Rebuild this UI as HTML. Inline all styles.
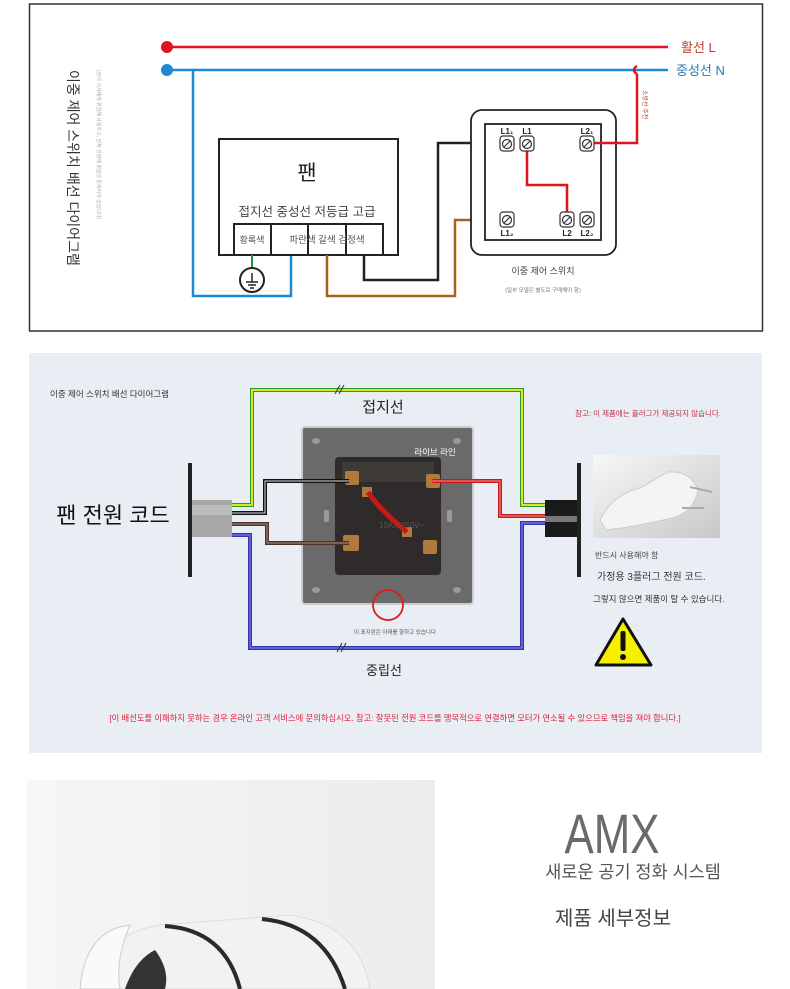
<!DOCTYPE html>
<html><head><meta charset="utf-8"><style>
html,body{margin:0;padding:0;background:#fff;}
svg{display:block;font-family:"Liberation Sans","Noto Sans CJK KR",sans-serif;}
</style></head><body>
<svg width="790" height="989" viewBox="0 0 790 989" xmlns="http://www.w3.org/2000/svg">
<defs>
<linearGradient id="pg" x1="0" y1="0" x2="1" y2="1"><stop offset="0" stop-color="#f7f7f7"/><stop offset="1" stop-color="#c8c8c8"/></linearGradient>
<linearGradient id="fg" x1="0" y1="0" x2="1" y2="0"><stop offset="0" stop-color="#f6f6f6"/><stop offset="1" stop-color="#ececec"/></linearGradient>
</defs>
<!-- Section 1 -->
<rect x="29.5" y="4" width="733" height="327" fill="#fff" stroke="#333" stroke-width="1.5"/>
<text transform="translate(68,70) rotate(90)" font-size="14" fill="#333">이중 제어 스위치 배선 다이어그램</text>
<text transform="translate(97,70) rotate(90)" font-size="5" fill="#aaa">(전기 기사에게 위임해 사용하고, 인체 안전에 위험성 존재하지 않습니다)</text>
<line x1="167" y1="47" x2="668" y2="47" stroke="#e0141e" stroke-width="2.5"/>
<line x1="167" y1="70" x2="668" y2="70" stroke="#1a8ad4" stroke-width="2.5"/>
<circle cx="167" cy="47" r="6" fill="#e0141e"/>
<circle cx="167" cy="70" r="6" fill="#1a8ad4"/>
<text x="681" y="52" font-size="13" fill="#c0392b">활선 L</text>
<text x="676" y="75" font-size="13" fill="#2a7ab0">중성선 N</text>
<polyline points="193,70 193,296 291,296 291,255" fill="none" stroke="#1a8ad4" stroke-width="2.5"/>
<rect x="219" y="139" width="179" height="116" fill="#fff" stroke="#222" stroke-width="2"/>
<text x="307" y="180" font-size="21" text-anchor="middle" fill="#222">팬</text>
<text x="307" y="216" font-size="12.5" text-anchor="middle" fill="#444">접지선 중성선 저등급 고급</text>
<rect x="234" y="224" width="149" height="31" fill="#fff" stroke="#222" stroke-width="2"/>
<line x1="271" y1="224" x2="271" y2="255" stroke="#222" stroke-width="2"/>
<line x1="308" y1="224" x2="308" y2="255" stroke="#222" stroke-width="2"/>
<line x1="346" y1="224" x2="346" y2="255" stroke="#222" stroke-width="2"/>
<text x="252" y="243" font-size="9" text-anchor="middle" fill="#555">황록색</text>
<text x="327" y="243" font-size="9.5" text-anchor="middle" fill="#555">파란색 갈색 검정색</text>
<line x1="252" y1="255" x2="252" y2="268" stroke="#1a9a3a" stroke-width="2"/>
<circle cx="252" cy="280" r="12" fill="#fff" stroke="#222" stroke-width="2"/>
<line x1="252" y1="273" x2="252" y2="282" stroke="#222" stroke-width="1.5"/>
<line x1="246" y1="282" x2="258" y2="282" stroke="#222" stroke-width="1.5"/>
<line x1="248" y1="285" x2="256" y2="285" stroke="#222" stroke-width="1.5"/>
<line x1="250" y1="288" x2="254" y2="288" stroke="#222" stroke-width="1.5"/>
<polyline points="327,255 327,296 455,296 455,220 500,220" fill="none" stroke="#a8621c" stroke-width="2.5"/>
<polyline points="364,255 364,280 438,280 438,143 500,143" fill="none" stroke="#222" stroke-width="2.5"/>
<rect x="471" y="110" width="145" height="145" rx="11" fill="#fff" stroke="#222" stroke-width="1.8"/>
<rect x="485" y="124" width="116" height="116" fill="#fff" stroke="#222" stroke-width="1.8"/>
<polyline points="527,150 527,185 567,185 567,213" fill="none" stroke="#e0141e" stroke-width="2.5"/>
<polyline points="594,143 637,143 637,74 M637,66 637,47" fill="none" stroke="#e0141e" stroke-width="2.5"/>
<path d="M637,74 Q631,70 637,66" fill="none" stroke="#e0141e" stroke-width="2.5"/>
<text transform="translate(643,90) rotate(90)" font-size="6" fill="#c0392b">소방선 추천</text>
<g font-size="8" font-weight="bold" fill="#222" text-anchor="middle">
<text x="507" y="134">L1₁</text><text x="527" y="134">L1</text><text x="587" y="134">L2₁</text>
<text x="507" y="236">L1₂</text><text x="567" y="236">L2</text><text x="587" y="236">L2₂</text>
</g>
<g fill="#fff" stroke="#333" stroke-width="1.2">
<rect x="500" y="136" width="14" height="15" rx="3"/><rect x="520" y="136" width="14" height="15" rx="3"/><rect x="580" y="136" width="14" height="15" rx="3"/>
<rect x="500" y="212" width="14" height="15" rx="3"/><rect x="560" y="212" width="14" height="15" rx="3"/><rect x="580" y="212" width="14" height="15" rx="3"/>
</g>
<g fill="none" stroke="#333" stroke-width="1.2">
<circle cx="507" cy="144" r="4.5"/><circle cx="527" cy="144" r="4.5"/><circle cx="587" cy="144" r="4.5"/>
<circle cx="507" cy="220" r="4.5"/><circle cx="567" cy="220" r="4.5"/><circle cx="587" cy="220" r="4.5"/>
<path d="M504,147 510,141 M524,147 530,141 M584,147 590,141 M504,223 510,217 M564,223 570,217 M584,223 590,217"/>
</g>
<text x="543" y="274" font-size="9" text-anchor="middle" fill="#444">이중 제어 스위치</text>
<text x="543" y="292" font-size="5.5" text-anchor="middle" fill="#777">(일부 모델은 별도로 구매해야 함)</text>

<!-- Section 2 -->
<rect x="29" y="353" width="733" height="400" fill="#e9eef4"/>
<text x="50" y="397" font-size="8.5" fill="#333">이중 제어 스위치 배선 다이어그램</text>
<text x="383" y="412" font-size="15" text-anchor="middle" fill="#222">접지선</text>
<text x="384" y="675" font-size="13" text-anchor="middle" fill="#222">중립선</text>
<text x="113" y="523" font-size="22" text-anchor="middle" fill="#111">팬 전원 코드</text>
<polyline points="232,505 252,505 252,390 522,390 522,505 545,505" fill="none" stroke="#2a9a2a" stroke-width="4"/>
<polyline points="232,505 252,505 252,390 522,390 522,505 545,505" fill="none" stroke="#d8e820" stroke-width="2"/>
<line x1="335" y1="394" x2="340" y2="385" stroke="#333"/><line x1="339" y1="394" x2="344" y2="385" stroke="#333"/>
<polyline points="232,535 250,535 250,648 522,648 522,523 545,523" fill="none" stroke="#3535b0" stroke-width="4"/>
<polyline points="232,535 250,535 250,648 522,648 522,523 545,523" fill="none" stroke="#7a7af0" stroke-width="1.2"/>
<line x1="337" y1="652" x2="342" y2="643" stroke="#333"/><line x1="341" y1="652" x2="346" y2="643" stroke="#333"/>
<rect x="302" y="427" width="171" height="177" rx="3" fill="#6a6a6a" stroke="#ccc" stroke-width="2"/>
<rect x="335" y="457" width="106" height="118" rx="4" fill="#2e2b2a"/>
<rect x="342" y="462" width="92" height="20" fill="#3e3a38"/>
<g fill="#9a9a9a"><ellipse cx="316" cy="441" rx="4" ry="3"/><ellipse cx="457" cy="441" rx="4" ry="3"/><ellipse cx="316" cy="590" rx="4" ry="3"/><ellipse cx="457" cy="590" rx="4" ry="3"/>
<rect x="324" y="510" width="5" height="12" rx="2"/><rect x="447" y="510" width="5" height="12" rx="2"/></g>
<g fill="#b07a3a"><rect x="345" y="471" width="14" height="14" rx="2"/><rect x="426" y="474" width="14" height="14" rx="2"/><rect x="343" y="535" width="16" height="16" rx="2"/><rect x="423" y="540" width="14" height="14" rx="2"/><rect x="362" y="487" width="10" height="10"/><rect x="402" y="527" width="10" height="10"/></g>
<text x="379" y="528" font-size="8" fill="#5a5450">10AX 250V~</text>
<path d="M368,492 Q380,510 407,532" fill="none" stroke="#c41a1a" stroke-width="5"/>
<text x="435" y="455" font-size="8.5" text-anchor="middle" fill="#fff">라이브 라인</text>
<polyline points="232,513 265,513 265,481 349,481" fill="none" stroke="#111" stroke-width="4"/>
<polyline points="232,513 265,513 265,481 349,481" fill="none" stroke="#ddd" stroke-width="1"/>
<polyline points="232,524 267,524 267,543 349,543" fill="none" stroke="#4a3328" stroke-width="4"/>
<polyline points="232,524 267,524 267,543 349,543" fill="none" stroke="#b09080" stroke-width="1"/>
<polyline points="432,481 500,481 500,516 545,516" fill="none" stroke="#c41a1a" stroke-width="4"/>
<polyline points="432,481 500,481 500,516 545,516" fill="none" stroke="#ff9090" stroke-width="1"/>
<circle cx="388" cy="605" r="15" fill="none" stroke="#e01a1a" stroke-width="1.8"/>
<text x="395" y="634" font-size="5.5" text-anchor="middle" fill="#555">이 표지판은 아래를 향하고 있습니다</text>
<rect x="188" y="463" width="4" height="114" fill="#222"/>
<rect x="192" y="500" width="40" height="37" fill="#a8a8a8"/>
<rect x="192" y="505" width="40" height="10" fill="#bcbcbc"/>
<rect x="577" y="463" width="4" height="114" fill="#222"/>
<rect x="545" y="500" width="32" height="37" fill="#1a1a1a"/>
<rect x="545" y="516" width="32" height="6" fill="#777"/>
<text x="648" y="416" font-size="7.5" text-anchor="middle" fill="#c0304a">참고: 이 제품에는 플러그가 제공되지 않습니다.</text>
<rect x="593" y="455" width="127" height="83" fill="url(#pg)"/>
<path d="M600,520 Q612,495 640,488 L668,472 Q690,470 698,490 Q694,512 672,518 Q640,526 606,530 Z" fill="#f4f4f4" stroke="#ccc"/>
<line x1="690" y1="487" x2="712" y2="492" stroke="#aaa" stroke-width="2"/><line x1="682" y1="508" x2="704" y2="508" stroke="#aaa" stroke-width="2"/>
<text x="595" y="558" font-size="8" fill="#444">반드시 사용해야 함</text>
<text x="597" y="580" font-size="10" fill="#333">가정용 3플러그 전원 코드.</text>
<text x="593" y="602" font-size="8.5" fill="#333">그렇지 않으면 제품이 탈 수 있습니다.</text>
<polygon points="623,619 651,665 596,665" fill="#f5f000" stroke="#111" stroke-width="3" stroke-linejoin="round"/>
<rect x="620.5" y="631" width="5" height="20" rx="2" fill="#111"/><circle cx="623" cy="657" r="3" fill="#111"/>
<text x="395" y="721" font-size="8.3" text-anchor="middle" fill="#e0203a">[이 배선도를 이해하지 못하는 경우 온라인 고객 서비스에 문의하십시오. 참고: 잘못된 전원 코드를 맹목적으로 연결하면 모터가 연소될 수 있으므로 책임을 져야 합니다.]</text>

<!-- Section 3 -->
<rect x="27" y="780" width="408" height="209" fill="url(#fg)"/>
<g>
<path d="M95,989 Q100,935 160,925 L290,915 Q360,925 370,989 Z" fill="#f2f2f2" stroke="#ddd"/>
<path d="M80,989 Q85,930 130,925 Q115,960 120,989 Z" fill="#fafafa" stroke="#ccc"/>
<path d="M165,926 Q225,930 240,989" fill="none" stroke="#2a2a2a" stroke-width="4"/>
<path d="M262,919 Q325,925 345,989" fill="none" stroke="#2a2a2a" stroke-width="4"/>
<path d="M125,989 Q135,960 155,950 Q170,970 165,989 Z" fill="#333"/>
</g>
<text x="612" y="853" font-size="56" fill="#6a6a6a" text-anchor="middle" textLength="95" lengthAdjust="spacingAndGlyphs">AMX</text>
<text x="633" y="878" font-size="17.5" fill="#555" text-anchor="middle">새로운 공기 정화 시스템</text>
<text x="613" y="925" font-size="20" fill="#444" text-anchor="middle">제품 세부정보</text>
</svg>
</body></html>
